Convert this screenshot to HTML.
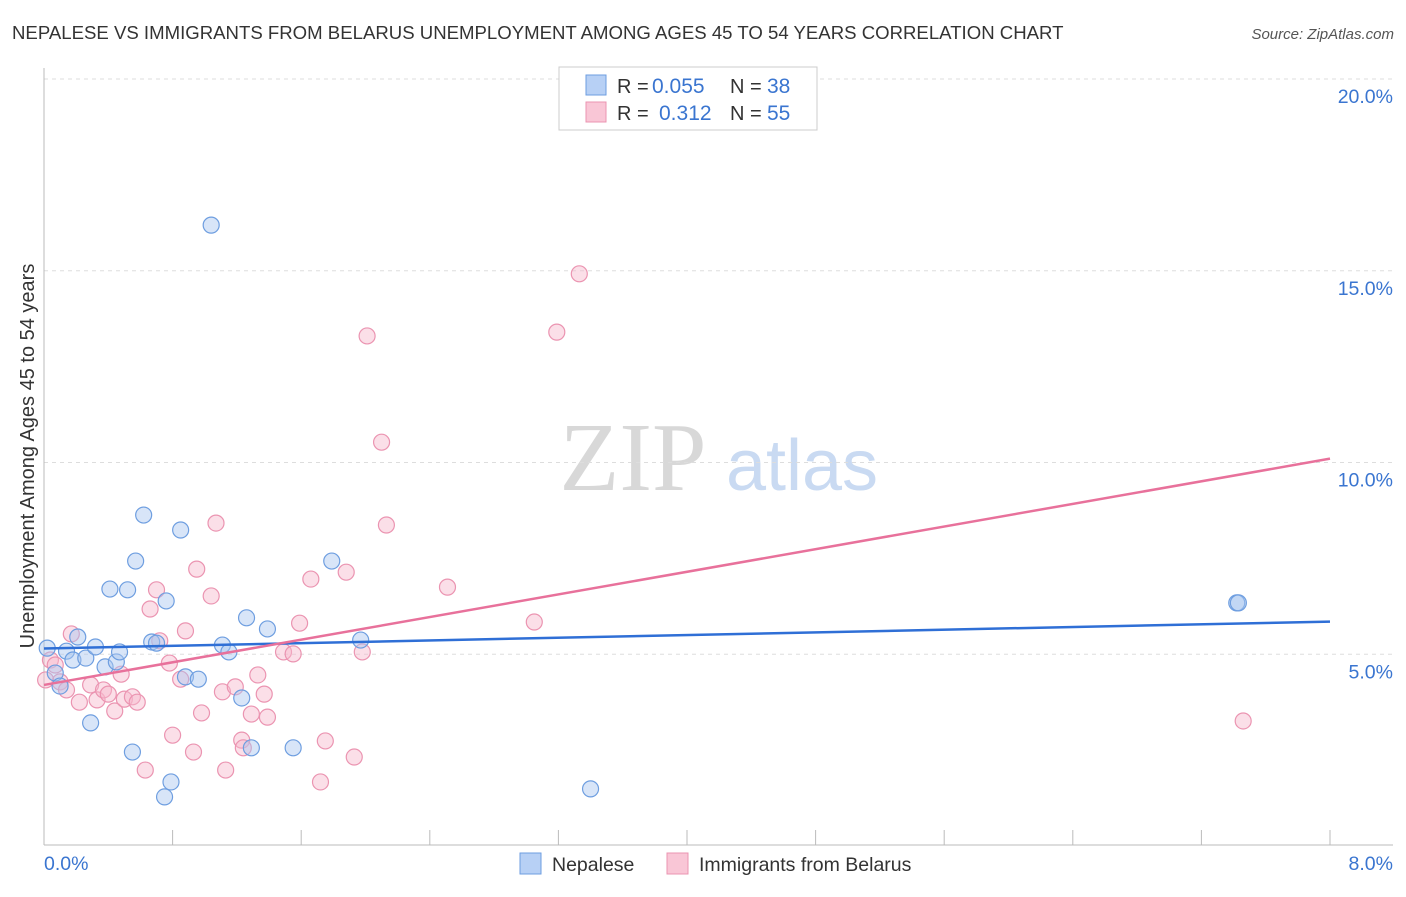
<!DOCTYPE html>
<html><head><meta charset="utf-8"><style>
body{margin:0;background:#fff;font-family:"Liberation Sans",sans-serif}
</style></head><body>
<svg id="chart" width="1406" height="892" xmlns="http://www.w3.org/2000/svg" style="font-family:'Liberation Sans',sans-serif">
<text x="12" y="39" font-size="18.6" fill="#333">NEPALESE VS IMMIGRANTS FROM BELARUS UNEMPLOYMENT AMONG AGES 45 TO 54 YEARS CORRELATION CHART</text>
<text x="1394" y="39" font-size="15" fill="#555" font-style="italic" text-anchor="end">Source: ZipAtlas.com</text>
<g>
<text x="633" y="490" font-size="98" fill="#d8d8d8" font-family="Liberation Serif,serif" text-anchor="middle">ZIP</text>
<text x="802" y="490" font-size="72" fill="#c9daf2" text-anchor="middle">atlas</text>
</g>
<g id="grid"></g><g id="axes"></g><g id="marks"></g>
<text transform="translate(34,456) rotate(-90)" font-size="20" fill="#333" text-anchor="middle">Unemployment Among Ages 45 to 54 years</text>
<g>
<rect x="559" y="67" width="258" height="63" fill="#fff" stroke="#ccc"/>
<rect x="586" y="75" width="20" height="20" fill="#b7d0f5" stroke="#6e9ee0"/>
<rect x="586" y="102" width="20" height="20" fill="#f9c6d6" stroke="#eb94b1"/>
<text x="617" y="93" font-size="20" fill="#333">R =</text>
<text x="652" y="93" font-size="21" fill="#3a75d0">0.055</text>
<text x="730" y="93" font-size="20" fill="#333">N =</text>
<text x="767" y="93" font-size="21" fill="#3a75d0">38</text>
<text x="617" y="120" font-size="20" fill="#333">R =</text>
<text x="659" y="120" font-size="21" fill="#3a75d0">0.312</text>
<text x="730" y="120" font-size="20" fill="#333">N =</text>
<text x="767" y="120" font-size="21" fill="#3a75d0">55</text>
</g>
<g>
<rect x="520" y="853" width="21" height="21" fill="#b7d0f5" stroke="#6e9ee0"/>
<text x="552" y="871" font-size="19.5" fill="#333">Nepalese</text>
<rect x="667" y="853" width="21" height="21" fill="#f9c6d6" stroke="#eb94b1"/>
<text x="699" y="871" font-size="19.5" fill="#333">Immigrants from Belarus</text>
</g>
</svg>
<script>
const xTicks=[0,1,2,3,4,5,6,7,8];
const yTicks=[5,10,15,20];
const blueX=[0.02,0.14,0.18,0.21,0.26,0.32,0.38,0.45,0.47,0.29,0.41,0.52,0.57,0.62,0.55,0.67,0.70,0.76,0.85,0.79,0.75,0.88,0.96,1.04,1.11,1.15,1.23,1.26,1.29,1.39,1.55,1.79,1.97,3.40,7.42,7.43,0.07,0.10];
const blueY=[5.16,5.08,4.85,5.45,4.90,5.19,4.67,4.80,5.06,3.21,6.70,6.68,7.43,8.63,2.45,5.32,5.29,6.39,8.24,1.67,1.28,4.41,4.35,16.19,5.24,5.06,3.86,5.95,2.56,5.66,2.56,7.43,5.37,1.49,6.34,6.34,4.51,4.17];
const pinkX=[0.04,0.07,0.10,0.14,0.17,0.22,0.29,0.33,0.37,0.40,0.44,0.48,0.50,0.55,0.58,0.63,0.66,0.70,0.72,0.78,0.80,0.85,0.88,0.93,0.95,0.98,1.04,1.07,1.11,1.13,1.19,1.23,1.24,1.29,1.33,1.37,1.39,1.49,1.55,1.59,1.66,1.72,1.75,1.88,1.93,1.98,2.01,2.10,2.13,2.51,3.05,3.19,3.33,7.46,0.01];
const pinkY=[4.85,4.72,4.28,4.07,5.53,3.75,4.20,3.81,4.07,3.96,3.52,4.48,3.83,3.89,3.75,1.98,6.18,6.68,5.35,4.77,2.89,4.35,5.61,2.45,7.22,3.47,6.52,8.42,4.02,1.98,4.15,2.76,2.56,3.44,4.46,3.96,3.36,5.06,5.01,5.81,6.96,1.67,2.74,7.14,2.32,5.06,13.30,10.53,8.37,6.75,5.84,13.40,14.92,3.26,4.33];
const blueTrend=[5.15,5.85];
const pinkTrend=[4.2,10.1];
const X=v=>44+v*160.75, Y=v=>846-v*38.35;
const NS="http://www.w3.org/2000/svg";
function mk(p,t,a){const e=document.createElementNS(NS,t);for(const k in a)e.setAttribute(k,a[k]);p.appendChild(e);return e;}
const grid=document.getElementById('grid'),axes=document.getElementById('axes'),marks=document.getElementById('marks');
yTicks.forEach(v=>{
 const l=mk(grid,'line',{x1:44,x2:1393,y1:Y(v),y2:Y(v),stroke:'#ddd','stroke-dasharray':'4,4'});
 
 
 const t=mk(grid,'text',{x:1393,y:Y(v)+24,'font-size':19.5,fill:'#3a75d0','text-anchor':'end'});
 t.textContent=v.toFixed(1)+'%';
 
 
});
const al=mk(axes,'line',{x1:44,x2:44,y1:68,y2:845,stroke:'#bbb'});


const bl=mk(axes,'line',{x1:44,x2:1393,y1:845,y2:845,stroke:'#bbb'});


for(let i=0;i<=10;i++){const v=i*0.8;const t=mk(axes,'line',{x1:X(v),x2:X(v),y1:830,y2:845,stroke:'#bbb'});
 
 }
[[0,'start',44],[8,'end',1393]].forEach(([v,a,x])=>{const t=mk(axes,'text',{x:x,y:870,'font-size':19.5,fill:'#3a75d0','text-anchor':a});t.textContent=v.toFixed(1)+'%';
 
 });
function pts(xs,ys,fill,stroke,name){xs.forEach((x,i)=>{const c=mk(marks,'circle',{cx:X(x),cy:Y(ys[i]),r:8,fill:fill,'fill-opacity':0.45,stroke:stroke,'stroke-width':1.2});
 
 });}
pts(pinkX,pinkY,'#f6b9cc','#eb94b1','belarus-point');
pts(blueX,blueY,'#a9c6f0','#6e9ee0','nepalese-point');
const tb=mk(marks,'line',{x1:X(0),y1:Y(blueTrend[0]),x2:X(8),y2:Y(blueTrend[1]),stroke:'#2f6fd6','stroke-width':2.5});


const tp=mk(marks,'line',{x1:X(0),y1:Y(pinkTrend[0]),x2:X(8),y2:Y(pinkTrend[1]),stroke:'#e8719b','stroke-width':2.5});


</script>
</body></html>
